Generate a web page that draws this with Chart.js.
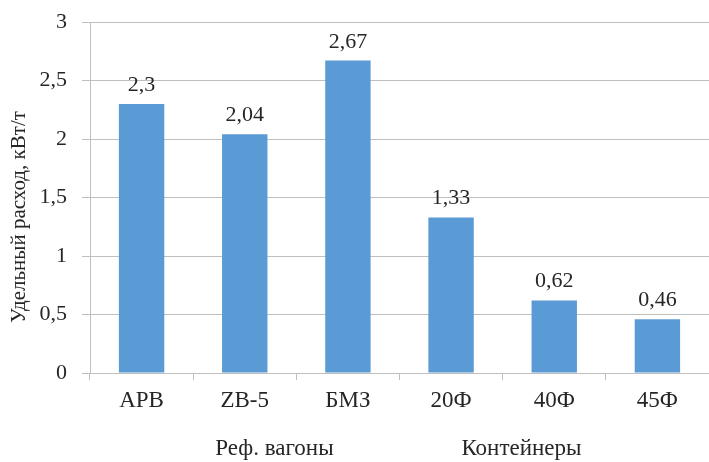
<!DOCTYPE html>
<html>
<head>
<meta charset="utf-8">
<script src="https://cdn.jsdelivr.net/npm/chart.js@4/dist/chart.umd.min.js"></script>
<style>
  body { margin: 0; background: #fff; }
</style>
</head>
<body>
<canvas id="grafica" width="709" height="462"></canvas>
<script>
// datos
const categorias = ['АРВ', 'ZB-5', 'БМЗ', '20Ф', '40Ф', '45Ф'];
const valores = [2.3, 2.04, 2.67, 1.33, 0.62, 0.46];
const grupos = ['Реф. вагоны', 'Контейнеры'];
const tituloY = 'Удельный расход, кВт/т';

const fuente = '"Liberation Serif", "Times New Roman", serif';
const colorTexto = '#262626';
const colorRejilla = '#BFBFBF';

const coma = v => String(v).replace('.', ',');

// etiquetas sobre barras, grupos y titulo del eje
const extras = {
  id: 'extras',
  afterDatasetsDraw(chart) {
    const ctx = chart.ctx;
    const area = chart.chartArea;
    ctx.save();
    ctx.fillStyle = colorTexto;
    ctx.font = '22px ' + fuente;
    ctx.textAlign = 'center';
    ctx.textBaseline = 'alphabetic';
    chart.getDatasetMeta(0).data.forEach((barra, i) => {
      ctx.fillText(coma(valores[i]), barra.x, barra.y - 13);
    });

    ctx.font = '23px ' + fuente;
    ctx.textBaseline = 'middle';
    ctx.fillText(grupos[0], area.left + area.width * 0.298, 449);
    ctx.fillText(grupos[1], area.left + area.width * 0.697, 449);

    ctx.font = '21px ' + fuente;
    ctx.translate(19, 217);
    ctx.rotate(-Math.PI / 2);
    ctx.fillText(tituloY, 0, 0);
    ctx.restore();
  }
};

const grafica = new Chart(document.getElementById('grafica'), {
  type: 'bar',
  data: {
    labels: categorias,
    datasets: [{
      data: valores,
      backgroundColor: '#5B9BD5',
      borderWidth: 0,
      barPercentage: 0.44,
      categoryPercentage: 1
    }]
  },
  options: {
    responsive: false,
    animation: false,
    layout: { padding: { top: 22, left: 0, right: 0, bottom: 0 } },
    plugins: {
      legend: { display: false },
      tooltip: { enabled: false }
    },
    scales: {
      x: {
        afterFit(scale) { scale.height = 89; },
        grid: {
          offset: true,
          drawOnChartArea: false,
          color: colorRejilla,
          tickLength: 7
        },
        border: { color: colorRejilla },
        ticks: {
          color: colorTexto,
          font: { family: fuente, size: 23 },
          padding: 7,
          maxRotation: 0
        }
      },
      y: {
        min: 0,
        max: 3,
        afterFit(scale) {
          scale.width = 90;
          scale.paddingTop = 0;
        },
        grid: { color: colorRejilla, tickLength: 8 },
        border: { color: colorRejilla },
        ticks: {
          stepSize: 0.5,
          color: colorTexto,
          font: { family: fuente, size: 22 },
          padding: 15,
          callback: v => coma(v)
        }
      }
    }
  },
  plugins: [extras]
});
</script>
</body>
</html>
